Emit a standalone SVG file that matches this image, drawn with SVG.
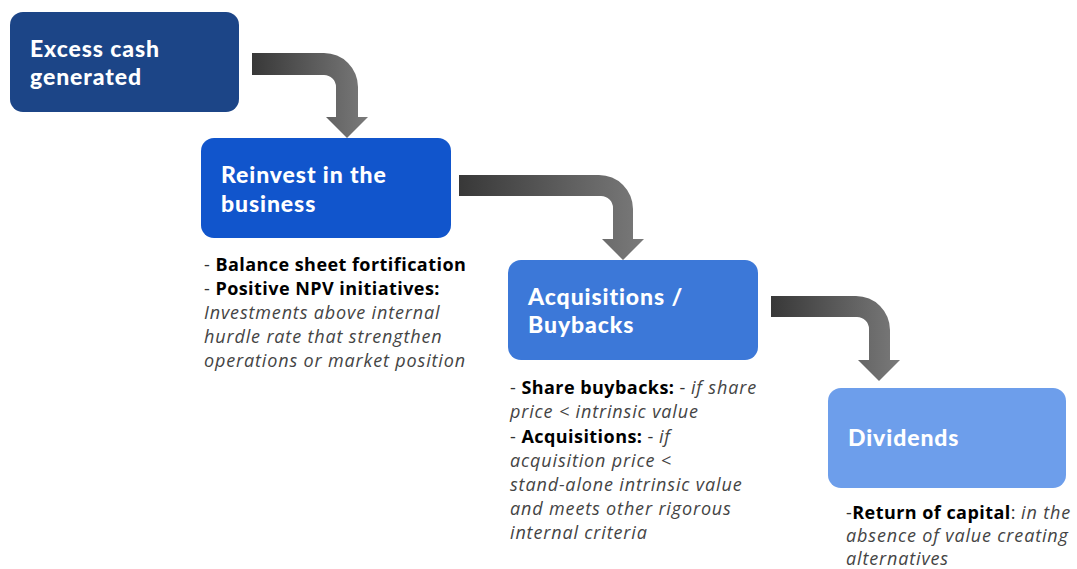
<svg xmlns="http://www.w3.org/2000/svg" width="1077" height="569" viewBox="0 0 1077 569">
<defs>
<linearGradient id="ag" x1="0" y1="0" x2="1" y2="0">
<stop offset="0" stop-color="#383838"/>
<stop offset="1" stop-color="#7a7a7a"/>
</linearGradient>
<style>
.box{stroke:none}
.t{font-family:Lato,"Open Sans",sans-serif;font-weight:900;font-size:23px;fill:#ffffff;letter-spacing:0.9px}
.d{font-family:"Open Sans","DejaVu Sans",sans-serif;font-size:18px;fill:#333333;letter-spacing:0.45px}
.b{font-weight:bold;fill:#000000}
.i{font-style:italic;fill:#444444;letter-spacing:0.85px}
.arrow{fill:url(#ag)}
</style>
</defs>
<rect width="1077" height="569" fill="#ffffff"/>
<g id="connectors">
<path class="arrow" d="M252,53 H324 A34,34 0 0 1 358,87 V117 H368 L347,138 L326,117 H336 V87 A12,12 0 0 0 324,75 H252 Z"/>
<path class="arrow" d="M459,175 H599 A34,34 0 0 1 633,209 V239 H644 L623,260 L602,239 H613 V208 A12,12 0 0 0 601,196 H459 Z"/>
<path class="arrow" d="M771,296 H856 A34,34 0 0 1 890,330 V360 H900 L879,381 L858,360 H869 V329 A12,12 0 0 0 857,317 H771 Z"/>
</g>
<g id="node-excess-cash">
<rect class="box" x="10" y="12" width="229" height="100" rx="13" fill="#1c4587"/>
<text class="t" x="30" y="57">Excess cash</text>
<text class="t" x="30" y="85">generated</text>
</g>
<g id="node-reinvest">
<rect class="box" x="201" y="138" width="250" height="100" rx="13" fill="#1155cc"/>
<text class="t" x="221" y="183">Reinvest in the</text>
<text class="t" x="221" y="212">business</text>
<text class="d" x="204" y="271">- <tspan class="b">Balance sheet fortification</tspan></text>
<text class="d" x="204" y="295">- <tspan class="b">Positive NPV initiatives:</tspan></text>
<text class="d i" x="204" y="319">Investments above internal</text>
<text class="d i" x="204" y="343">hurdle rate that strengthen</text>
<text class="d i" x="204" y="367">operations or market position</text>
</g>
<g id="node-acquisitions">
<rect class="box" x="508" y="260" width="250" height="100" rx="13" fill="#3c78d8"/>
<text class="t" x="528" y="305">Acquisitions /</text>
<text class="t" x="528" y="333">Buybacks</text>
<text class="d" x="510" y="394">- <tspan class="b">Share buybacks:</tspan> - <tspan class="i">if share</tspan></text>
<text class="d i" x="510" y="418">price &lt; intrinsic value</text>
<text class="d" x="510" y="443">- <tspan class="b">Acquisitions:</tspan> - <tspan class="i">if</tspan></text>
<text class="d i" x="510" y="467">acquisition price &lt;</text>
<text class="d i" x="510" y="491">stand-alone intrinsic value</text>
<text class="d i" x="510" y="515">and meets other rigorous</text>
<text class="d i" x="510" y="539">internal criteria</text>
</g>
<g id="node-dividends">
<rect class="box" x="828" y="388" width="238" height="100" rx="13" fill="#6d9eeb"/>
<text class="t" x="848" y="446">Dividends</text>
<text class="d" x="846" y="519">-<tspan class="b">Return of capital</tspan>: <tspan class="i">in the</tspan></text>
<text class="d i" x="846" y="542">absence of value creating</text>
<text class="d i" x="846" y="565">alternatives</text>
</g>
</svg>
